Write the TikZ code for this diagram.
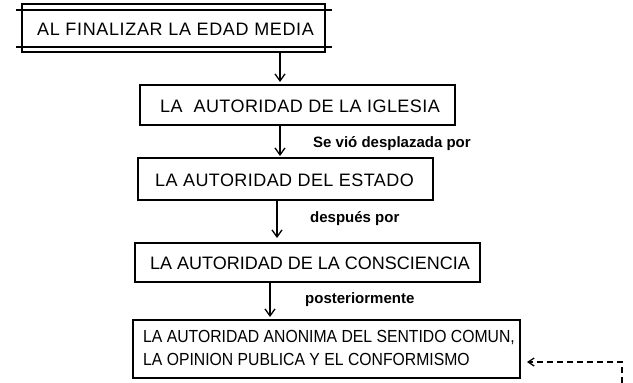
\documentclass[tikz,border=0pt]{standalone}
\usepackage{fontspec}
\setmainfont{Liberation Sans}
\usetikzlibrary{arrows.meta}
\begin{document}
\begin{tikzpicture}[x=1pt,y=-1pt,
  boxline/.style={line width=1.3pt},
  flow/.style={line width=1.3pt,-{Straight Barb[length=7pt,width=10pt]}},
  boxtext/.style={font=\fontsize{18}{23}\selectfont\addfontfeature{LetterSpace=#1},inner sep=0pt},
  labtext/.style={font=\bfseries\fontsize{15}{17}\selectfont,anchor=west,inner sep=0pt}]
\useasboundingbox (0,0) rectangle (633,383);
% box 1
\draw[boxline] (22,4) rectangle (325,52);
\draw[boxline] (16,10) -- (332,10);
\draw[boxline] (16,47) -- (332,47);
\node[boxtext=3.6,anchor=west] (t1) at (37,29) {AL FINALIZAR LA EDAD MEDIA};
% box 2
\draw[boxline] (140,85) rectangle (455,125);
\node[boxtext=2.5,anchor=west] (t2) at (160,106) {LA\ \ AUTORIDAD DE LA IGLESIA};
% box 3
\draw[boxline] (138,158) rectangle (433,200);
\node[boxtext=2.4,anchor=west] (t3) at (155,180) {LA AUTORIDAD DEL ESTADO};
% box 4
\draw[boxline] (135,243) rectangle (480,282);
\node[boxtext=0,anchor=west] (t4) at (150,263) {LA AUTORIDAD DE LA CONSCIENCIA};
% box 5
\draw[boxline] (133,320) rectangle (520,378);
\node[font=\fontsize{17.5}{22.5}\selectfont\addfontfeature{FakeStretch=0.9},inner sep=0pt,anchor=west,align=left] (t5) at (143,348) {LA AUTORIDAD ANONIMA DEL SENTIDO COMUN,\\LA OPINION PUBLICA Y EL CONFORMISMO};
% arrows
\coordinate (a1s) at (280,52); \coordinate (a1e) at (280,82);
\coordinate (a2s) at (280,125); \coordinate (a2e) at (280,156);
\coordinate (a3s) at (277,200); \coordinate (a3e) at (277,238);
\coordinate (a4s) at (270,282); \coordinate (a4e) at (270,317);
\draw[flow] (a1s) -- (a1e);
\draw[flow] (a2s) -- (a2e);
\draw[flow] (a3s) -- (a3e);
\draw[flow] (a4s) -- (a4e);
\node[labtext] (l2) at (313,144) {Se vió desplazada por};
\node[labtext] (l3) at (310,219) {después por};
\node[labtext] (l4) at (305,300) {posteriormente};
% dashed feedback
\coordinate (fb1) at (622,383);
\coordinate (fb2) at (622,362);
\coordinate (fb3) at (527,362);
\draw[line width=1.3pt,dash pattern=on 6pt off 4pt,-{Straight Barb[length=6pt,width=8pt]}] (fb1) -- (fb2) -- (fb3);
\end{tikzpicture}
\end{document}
